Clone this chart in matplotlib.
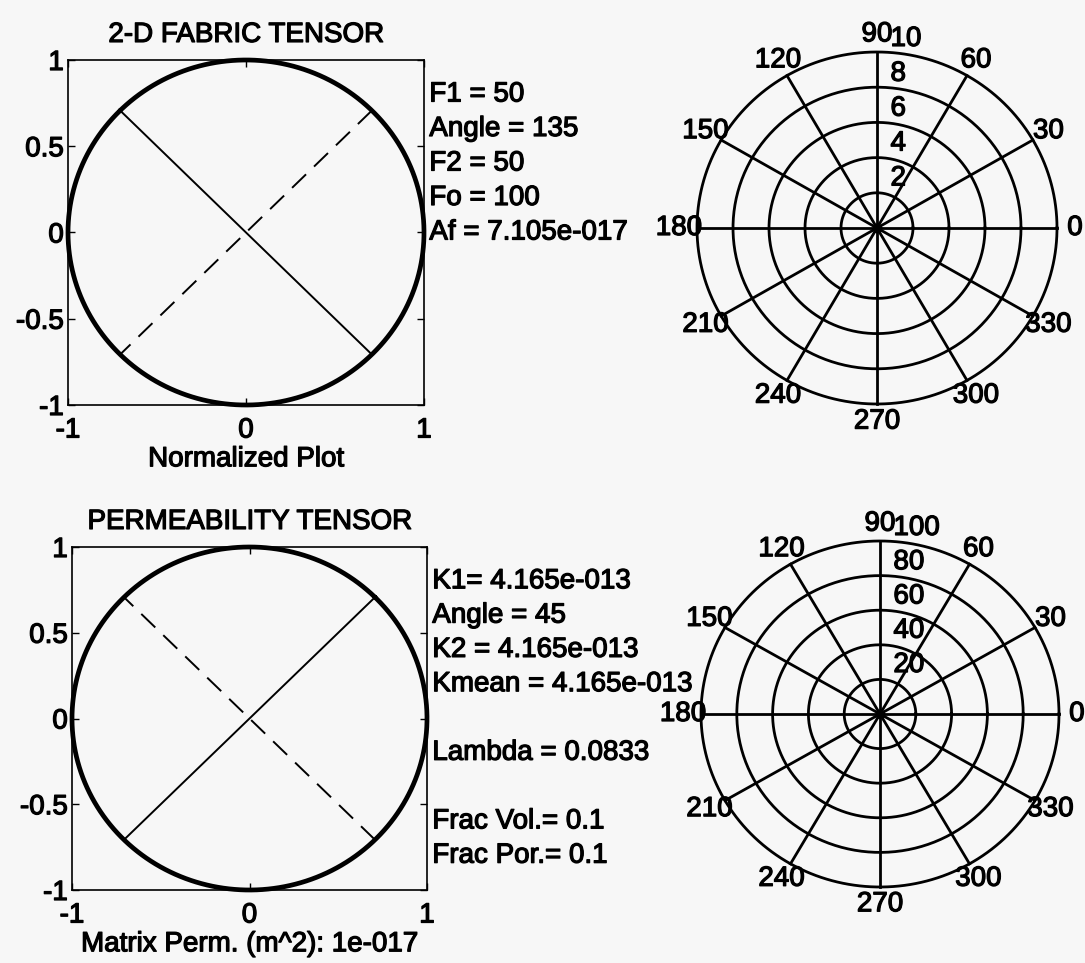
import numpy as np
import matplotlib
matplotlib.use("Agg")
import matplotlib.pyplot as plt
import matplotlib.patheffects as pe

# ---------------- data ----------------
fabric_title = "2-D FABRIC TENSOR"
fabric_xlabel = "Normalized Plot"
fabric_lines = ["F1 = 50", "Angle = 135", "F2 = 50", "Fo = 100", "Af = 7.105e-017"]
fabric_F1 = 50.0
fabric_F2 = 50.0
fabric_angle = 135.0

perm_title = "PERMEABILITY TENSOR"
perm_xlabel = "Matrix Perm. (m^2): 1e-017"
perm_lines = ["K1= 4.165e-013", "Angle = 45", "K2 = 4.165e-013",
              "Kmean = 4.165e-013", "Lambda = 0.0833", "Frac Vol.= 0.1", "Frac Por.= 0.1"]
perm_K1 = 4.165e-13
perm_K2 = 4.165e-13
perm_angle = 45.0

xticks_vals = [-1, 0, 1]
xticks_labels = ["-1", "0", "1"]
yticks_vals = [-1, -0.5, 0, 0.5, 1]
yticks_labels = ["-1", "-0.5", "0", "0.5", "1"]

polar_top_rings = [2, 4, 6, 8, 10]
polar_bot_rings = [20, 40, 60, 80, 100]
polar_angles = [0, 30, 60, 90, 120, 150, 180, 210, 240, 270, 300, 330]

# ---------------- layout (not data) ----------------
fabric_text_y = [0.8, 0.6, 0.4, 0.2, 0.0]
perm_text_y = [0.8, 0.6, 0.4, 0.2, -0.2, -0.6, -0.8]

plt.rcParams["font.family"] = ["Liberation Sans", "DejaVu Sans"]
plt.rcParams["axes.unicode_minus"] = False
plt.rcParams["lines.scale_dashes"] = False

BG = "#f7f7f7"
FS = 20
W, H = 1085, 963
fig = plt.figure(figsize=(W / 100, H / 100), dpi=100, facecolor=BG)
heavy = [pe.withStroke(linewidth=0.9, foreground="black")]


def px_axes(x0, y0, x1, y1):
    return fig.add_axes([x0 / W, 1 - y1 / H, (x1 - x0) / W, (y1 - y0) / H])


def tensor_panel(ax, v1, v2, ang, title, xlabel, lines, ys):
    ax.set_facecolor(BG)
    ratio = min(v1, v2) / max(v1, v2)
    t = np.linspace(0, 2 * np.pi, 400)
    a = np.deg2rad(ang)
    ex, ey = np.cos(t), ratio * np.sin(t)
    X = ex * np.cos(a) - ey * np.sin(a)
    Y = ex * np.sin(a) + ey * np.cos(a)
    ax.plot(X, Y, color="black", lw=3.4, solid_capstyle="round", clip_on=False)
    # principal directions
    ax.plot([-np.cos(a), np.cos(a)], [-np.sin(a), np.sin(a)], color="black", lw=1.4)
    b = a + np.pi / 2
    ax.plot([-ratio * np.cos(b), ratio * np.cos(b)], [-ratio * np.sin(b), ratio * np.sin(b)],
            color="black", lw=1.4, linestyle=(0, (14, 8)))
    ax.set_xlim(-1, 1)
    ax.set_ylim(-1, 1)
    ax.set_xticks(xticks_vals)
    ax.set_xticklabels(xticks_labels)
    ax.set_yticks(yticks_vals)
    ax.set_yticklabels(yticks_labels)
    ax.tick_params(direction="in", length=5, width=1, top=True, right=True,
                   labelsize=FS, colors="black")
    ax.tick_params(axis="x", pad=9)
    ax.tick_params(axis="y", pad=3)
    for lab in ax.get_xticklabels() + ax.get_yticklabels():
        lab.set_path_effects(heavy)
    for s in ax.spines.values():
        s.set_linewidth(1.2)
    ax.set_title(title, fontsize=FS, pad=13, path_effects=heavy)
    ax.set_xlabel(xlabel, fontsize=FS, labelpad=2, path_effects=heavy)
    for txt, y in zip(lines, ys):
        ax.text(1.03, y, txt, fontsize=FS, ha="left", va="center", clip_on=False,
                path_effects=heavy)


def polar_panel(cx, cy, rx, ry, rings):
    half = 205
    ax = px_axes(cx - half, cy - half, cx + half, cy + half)
    ax.set_facecolor("none")
    rmax = rings[-1]
    ax.set_xlim(-rmax * half / rx, rmax * half / rx)
    ax.set_ylim(-rmax * half / ry, rmax * half / ry)
    ax.axis("off")
    t = np.linspace(0, 2 * np.pi, 400)
    for r in rings:
        ax.plot(r * np.cos(t), r * np.sin(t), color="black", lw=2.0, clip_on=False)
    for ang in polar_angles[:6]:
        a = np.deg2rad(ang)
        ax.plot([-rmax * np.cos(a), rmax * np.cos(a)], [-rmax * np.sin(a), rmax * np.sin(a)],
                color="black", lw=2.0, clip_on=False)
    ax.plot([0], [0], "o", color="black", ms=6)
    rt = 1.1 * rmax
    for ang in polar_angles:
        a = np.deg2rad(ang)
        ax.text(rt * np.cos(a), rt * np.sin(a), str(ang), fontsize=FS,
                ha="center", va="center", clip_on=False, path_effects=heavy)
    s82 = np.sin(np.deg2rad(82))
    for r in rings:
        ax.text(0.075 * rmax, (r + rmax / 100) * s82, str(r), fontsize=FS,
                ha="left", va="bottom", clip_on=False, path_effects=heavy)
    return ax


ax1 = px_axes(68, 60, 424, 405)
tensor_panel(ax1, fabric_F1, fabric_F2, fabric_angle, fabric_title, fabric_xlabel,
             fabric_lines, fabric_text_y)

ax2 = px_axes(72, 547, 427, 890)
tensor_panel(ax2, perm_K1, perm_K2, perm_angle, perm_title, perm_xlabel,
             perm_lines, perm_text_y)

polar_panel(877, 228, 180, 176, polar_top_rings)
polar_panel(880, 714, 179, 173, polar_bot_rings)

fig.savefig("out.png", dpi=100, facecolor=BG)
